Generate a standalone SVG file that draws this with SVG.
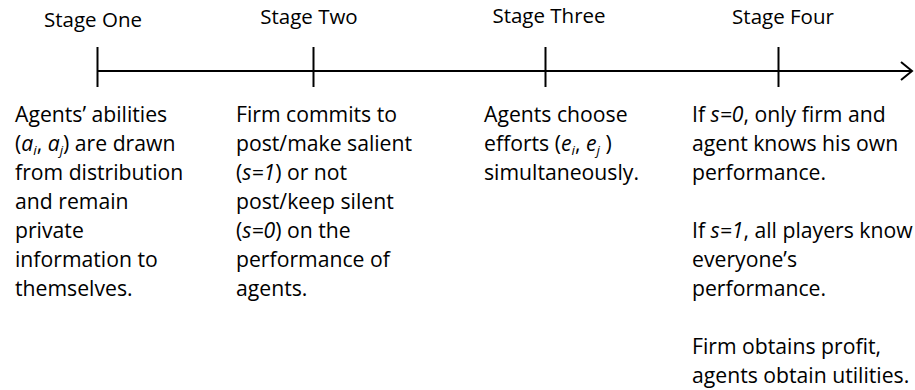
<svg xmlns="http://www.w3.org/2000/svg" width="915" height="390" viewBox="0 0 915 390">
<style>
text{font-family:"Open Sans","Noto Sans","Liberation Sans",sans-serif;font-size:21.2px;fill:#000}
.st{text-anchor:middle;font-size:20.5px}
.i{font-style:italic}
.sub{font-style:italic;font-size:13.5px}
.ln{stroke:#000;stroke-width:2;fill:none}
</style>
<defs>
<marker id="arr" markerWidth="14" markerHeight="20" refX="12" refY="10" orient="auto" markerUnits="userSpaceOnUse">
<path d="M1,1 L12,10 L1,19" fill="none" stroke="#000" stroke-width="2"/>
</marker>
</defs>
<rect width="915" height="390" fill="#fff"/>
<g id="connectors">
<line class="ln" x1="97" y1="71" x2="912" y2="71" marker-end="url(#arr)"/>
</g>
<g id="stage1">
<line class="ln" x1="97.5" y1="47" x2="97.5" y2="87"/>
<text class="st" x="93" y="27">Stage One</text>
<text x="15" y="122">Agents’ abilities</text>
<text x="15" y="151">(<tspan class="i">a</tspan><tspan class="sub" dy="4">i</tspan><tspan dy="-4">, </tspan><tspan class="i">a</tspan><tspan class="sub" dy="4">j</tspan><tspan dy="-4">) are drawn</tspan></text>
<text x="15" y="180">from distribution</text>
<text x="15" y="209">and remain</text>
<text x="15" y="238">private</text>
<text x="15" y="267">information to</text>
<text x="15" y="296">themselves.</text>
</g>
<g id="stage2">
<line class="ln" x1="313.5" y1="47" x2="313.5" y2="87"/>
<text class="st" x="309" y="24">Stage Two</text>
<text x="236" y="122">Firm commits to</text>
<text x="236" y="151">post/make salient</text>
<text x="236" y="180">(<tspan class="i">s=1</tspan>) or not</text>
<text x="236" y="209">post/keep silent</text>
<text x="236" y="238">(<tspan class="i">s=0</tspan>) on the</text>
<text x="236" y="267">performance of</text>
<text x="236" y="296">agents.</text>
</g>
<g id="stage3">
<line class="ln" x1="545.5" y1="47" x2="545.5" y2="87"/>
<text class="st" x="549" y="23">Stage Three</text>
<text x="484" y="122">Agents choose</text>
<text x="484" y="151">efforts (<tspan class="i">e</tspan><tspan class="sub" dy="4">i</tspan><tspan dy="-4">, </tspan><tspan class="i">e</tspan><tspan class="sub" dy="4">j</tspan><tspan dy="-4"> )</tspan></text>
<text x="484" y="180">simultaneously.</text>
</g>
<g id="stage4">
<line class="ln" x1="778.5" y1="47" x2="778.5" y2="87"/>
<text class="st" x="783" y="24">Stage Four</text>
<text x="692" y="122">If <tspan class="i">s=0</tspan>, only firm and</text>
<text x="692" y="151">agent knows his own</text>
<text x="692" y="180">performance.</text>
<text x="692" y="238">If <tspan class="i">s=1</tspan>, all players know</text>
<text x="692" y="267">everyone’s</text>
<text x="692" y="296">performance.</text>
<text x="692" y="354">Firm obtains profit,</text>
<text x="692" y="383">agents obtain utilities.</text>
</g>
</svg>
